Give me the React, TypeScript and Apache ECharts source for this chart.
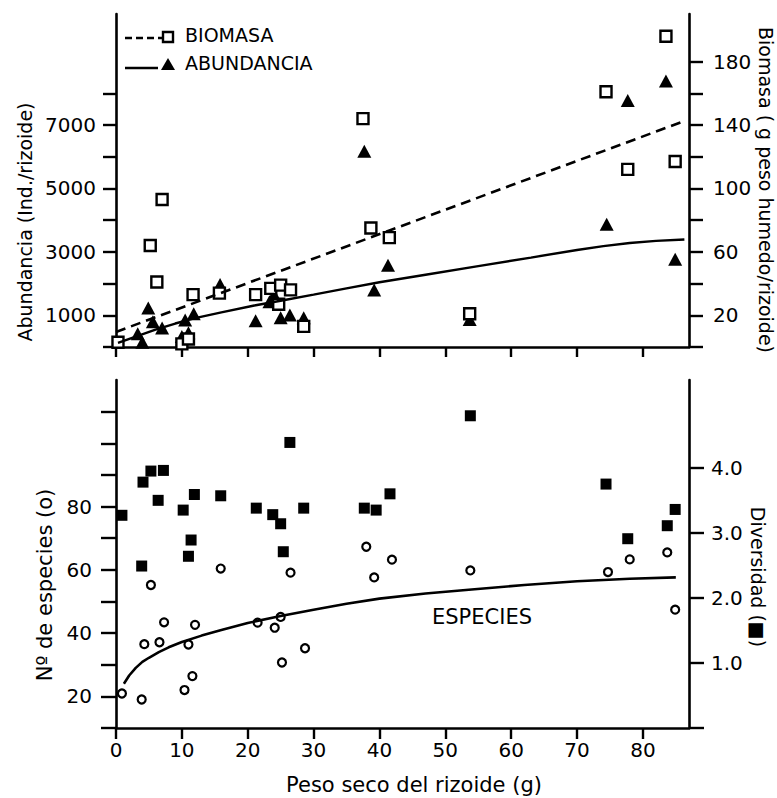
import React, { useEffect, useRef } from "react";
import * as echarts from "echarts";

// ---- axis ticks / labels ----
const xTicks = [0, 10, 20, 30, 40, 50, 60, 70, 80];
const abundanciaTicks = [0, 1000, 2000, 3000, 4000, 5000, 6000, 7000, 8000];
const abundanciaLabels = [1000, 3000, 5000, 7000];
const biomasaTicks = [0, 20, 40, 60, 80, 100, 120, 140, 160, 180];
const biomasaLabels = [20, 60, 100, 140, 180];
const especiesTicks = [10, 20, 30, 40, 50, 60, 70, 80, 90, 100, 110];
const especiesLabels = [20, 40, 60, 80];
const diversidadTicks = [0, 1, 2, 3, 4];
const diversidadLabels = [1, 2, 3, 4];

// ---- top panel data: [peso seco (g), value] ----
const abundanciaPoints = [
  [3.3, 420], [4.0, 150], [4.9, 1230], [5.6, 800], [7.0, 600], [10.0, 330], [10.5, 850],
  [11.0, 450], [11.8, 1050], [15.8, 1970], [21.2, 830], [23.3, 1430], [24.0, 1650],
  [25.0, 920], [26.4, 1010], [28.5, 920], [37.7, 6170], [39.2, 1800], [41.3, 2580],
  [53.7, 870], [74.5, 3870], [77.7, 7770], [83.5, 8390], [84.9, 2770],
];
const biomasaPoints = [
  [0.3, 3], [5.2, 64], [6.2, 41], [7.0, 93], [10.0, 2], [11.0, 5], [11.7, 33], [15.7, 34],
  [21.2, 33], [23.5, 37], [24.7, 27], [25.0, 39], [26.5, 36], [28.5, 13], [37.5, 144],
  [38.7, 75], [41.5, 69], [53.7, 21], [74.4, 161], [77.7, 112], [83.5, 196], [84.9, 117],
];
const abundanciaFit = [
  [0.3, 130], [3, 330], [6, 550], [9, 740], [12, 910], [16, 1090], [21, 1310], [25, 1460],
  [30, 1650], [35, 1850], [40, 2040], [47, 2280], [55, 2550], [63, 2820], [70, 3060],
  [74, 3180], [78, 3280], [82, 3345], [86.3, 3390],
];
const biomasaFit = [[0, 9.5], [86.3, 142.5]];

// ---- bottom panel data ----
const especiesPoints = [
  [0.9, 20.9], [3.9, 19], [4.3, 36.5], [5.3, 55.2], [6.6, 37.1], [7.3, 43.4], [10.4, 22.0],
  [11.0, 36.4], [11.6, 26.4], [12.0, 42.6], [15.9, 60.4], [21.5, 43.3], [24.1, 41.7],
  [25.0, 45.1], [25.2, 30.7], [26.5, 59.1], [28.7, 35.2], [38.0, 67.3], [39.2, 57.6],
  [41.9, 63.2], [53.8, 59.8], [74.7, 59.3], [78.0, 63.3], [83.7, 65.5], [84.9, 47.4],
];
const diversidadPoints = [
  [0.9, 3.27], [3.9, 2.49], [4.1, 3.78], [5.3, 3.95], [6.4, 3.5], [7.2, 3.96], [10.2, 3.35],
  [11.0, 2.64], [11.4, 2.89], [11.9, 3.59], [15.9, 3.57], [21.3, 3.38], [23.8, 3.28],
  [25.0, 3.14], [25.4, 2.71], [26.4, 4.39], [28.5, 3.38], [37.7, 3.38], [39.5, 3.35],
  [41.6, 3.6], [53.8, 4.8], [74.4, 3.75], [77.7, 2.91], [83.7, 3.11], [84.9, 3.36],
];
const especiesCurve = [
  [1.2, 24], [2, 26.6], [3, 29], [4, 30.9], [5, 32.2], [6.5, 34], [8, 35.5], [10, 37.2],
  [13, 39.2], [16, 41], [20, 43.2], [25, 45.4], [30, 47.4], [35, 49.3], [40, 50.9],
  [47, 52.5], [54, 53.8], [62, 55.2], [70, 56.4], [78, 57.2], [85, 57.6],
];

const FONT = '"DejaVu Sans", "Liberation Sans", sans-serif';
const INK = "#000";

function valueAxisBase() {
  return {
    type: "value",
    splitLine: { show: false },
    axisLine: { show: true, onZero: false, lineStyle: { color: INK, width: 2.6 } },
  };
}

function txt(text: string, x: number, y: number, size: number, rotation = 0, align = "center") {
  return {
    type: "text",
    x,
    y,
    rotation,
    style: {
      text,
      fill: INK,
      fontFamily: FONT,
      fontSize: size,
      align,
      verticalAlign: "middle",
    },
  };
}

export default function App() {
  const ref = useRef<HTMLDivElement>(null);

  useEffect(() => {
    document.body.style.margin = "0";
    if (!ref.current) return;
    const chart = echarts.init(ref.current, null, { renderer: "svg" });

    const labelStyle = { color: INK, fontFamily: FONT, fontSize: 20 };
    const plain = (v: number) => String(v);

    const option: any = {
      animation: false,
      backgroundColor: "#fff",
      grid: [
        { left: 116, right: 88, top: 14, height: 333 },
        { left: 116, right: 88, top: 380, height: 348 },
      ],
      xAxis: [
        {
          ...valueAxisBase(),
          gridIndex: 0,
          min: 0,
          max: 87,
          axisTick: { show: true, customValues: xTicks, length: 10, lineStyle: { color: INK, width: 2.4 } },
          axisLabel: { show: false },
        },
        {
          ...valueAxisBase(),
          gridIndex: 1,
          min: 0,
          max: 87,
          axisTick: { show: true, customValues: xTicks, length: 11, lineStyle: { color: INK, width: 2.4 } },
          axisLabel: { ...labelStyle, customValues: xTicks, margin: 12, formatter: plain },
        },
      ],
      yAxis: [
        {
          ...valueAxisBase(),
          gridIndex: 0,
          position: "left",
          min: 0,
          max: 10500,
          axisTick: { show: true, customValues: abundanciaTicks, length: 13, lineStyle: { color: INK, width: 2.4 } },
          axisLabel: { ...labelStyle, customValues: abundanciaLabels, margin: 20, formatter: plain },
        },
        {
          ...valueAxisBase(),
          gridIndex: 0,
          position: "right",
          min: 0,
          max: 210,
          axisTick: { show: true, customValues: biomasaTicks, length: 14, lineStyle: { color: INK, width: 2.4 } },
          axisLabel: { ...labelStyle, customValues: biomasaLabels, margin: 24, formatter: plain },
        },
        {
          ...valueAxisBase(),
          gridIndex: 1,
          position: "left",
          min: 10,
          max: 120,
          axisTick: { show: true, customValues: especiesTicks, length: 15, lineStyle: { color: INK, width: 2.4 } },
          axisLabel: { ...labelStyle, customValues: especiesLabels, margin: 24, formatter: plain },
        },
        {
          ...valueAxisBase(),
          gridIndex: 1,
          position: "right",
          min: 0,
          max: 5.35,
          axisTick: { show: true, customValues: diversidadTicks, length: 15, lineStyle: { color: INK, width: 2.4 } },
          axisLabel: {
            ...labelStyle,
            customValues: diversidadLabels,
            margin: 22,
            formatter: (v: number) => v.toFixed(1),
          },
        },
      ],
      series: [
        {
          type: "line",
          xAxisIndex: 0,
          yAxisIndex: 1,
          data: biomasaFit,
          symbol: "none",
          lineStyle: { color: INK, width: 2.6, type: [10, 6] },
          silent: true,
        },
        {
          type: "line",
          xAxisIndex: 0,
          yAxisIndex: 0,
          data: abundanciaFit,
          symbol: "none",
          lineStyle: { color: INK, width: 2.4 },
          silent: true,
        },
        {
          type: "scatter",
          xAxisIndex: 0,
          yAxisIndex: 0,
          data: abundanciaPoints,
          symbol: "triangle",
          symbolSize: [14, 13],
          itemStyle: { color: INK, opacity: 1 },
          silent: true,
        },
        {
          type: "scatter",
          xAxisIndex: 0,
          yAxisIndex: 1,
          data: biomasaPoints,
          symbol: "rect",
          symbolSize: 11,
          itemStyle: { color: "#fff", borderColor: INK, borderWidth: 2.4, opacity: 1 },
          silent: true,
        },
        {
          type: "line",
          xAxisIndex: 1,
          yAxisIndex: 2,
          data: especiesCurve,
          symbol: "none",
          lineStyle: { color: INK, width: 2.6 },
          silent: true,
        },
        {
          type: "scatter",
          xAxisIndex: 1,
          yAxisIndex: 2,
          data: especiesPoints,
          symbol: "circle",
          symbolSize: 8,
          itemStyle: { color: "#fff", borderColor: INK, borderWidth: 2.2, opacity: 1 },
          silent: true,
        },
        {
          type: "scatter",
          xAxisIndex: 1,
          yAxisIndex: 3,
          data: diversidadPoints,
          symbol: "rect",
          symbolSize: 11,
          itemStyle: { color: INK, opacity: 1 },
          silent: true,
        },
      ],
      graphic: [
        // legend
        {
          type: "line",
          shape: { x1: 125, y1: 38, x2: 162, y2: 38 },
          style: { stroke: INK, lineWidth: 2.4, lineDash: [7, 4] },
        },
        {
          type: "rect",
          shape: { x: 163, y: 32, width: 10, height: 10 },
          style: { fill: "#fff", stroke: INK, lineWidth: 2.4 },
        },
        txt("BIOMASA", 185, 35, 19, 0, "left"),
        {
          type: "line",
          shape: { x1: 125, y1: 68, x2: 158, y2: 68 },
          style: { stroke: INK, lineWidth: 2.4 },
        },
        {
          type: "polygon",
          shape: { points: [[168, 58], [175, 70], [161, 70]] },
          style: { fill: INK },
        },
        txt("ABUNDANCIA", 185, 63, 19, 0, "left"),
        // axis titles
        txt("Abundancia (Ind./rizoide)", 25, 222, 19, Math.PI / 2),
        txt("Biomasa ( g peso humedo/rizoide)", 766, 190, 19, -Math.PI / 2),
        txt("Nº de especies (o)", 45, 585, 21, Math.PI / 2),
        txt("Diversidad (■)", 758, 577, 19, -Math.PI / 2),
        txt("Peso seco del rizoide (g)", 414, 785, 21),
        txt("ESPECIES", 482, 617, 21),
      ],
    };

    chart.setOption(option);
    return () => chart.dispose();
  }, []);

  return <div ref={ref} style={{ width: 777, height: 798, background: "#fff" }} />;
}
